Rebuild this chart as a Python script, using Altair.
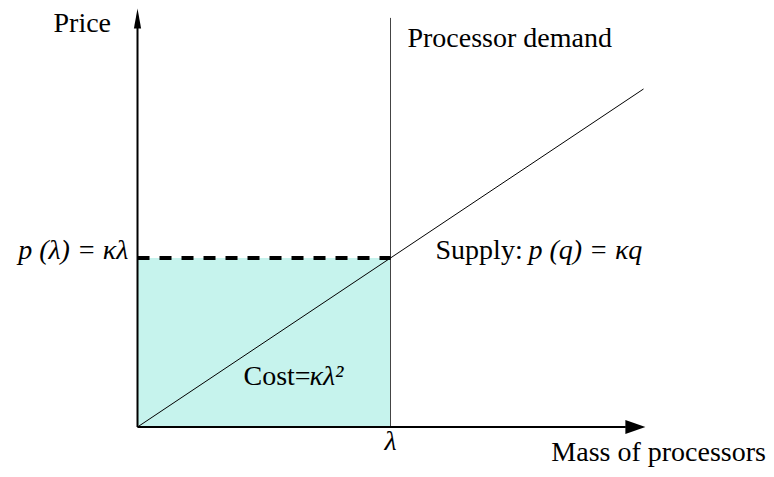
import altair as alt
import pandas as pd

# ---- model values (units where lambda = 1) ----
lam = 1.0                 # demand position
kappa = 0.668             # slope of supply, p(lambda) = kappa * lambda
supply_q = [0.0, 2.0]
supply_p = [0.0, 1.336]
x_axis_end = 1.93
y_axis_end = 1.58
demand_top = 1.617

FONT = "Liberation Serif"
FS = 28

xs = alt.Scale(domain=[-0.5119, 2.4842], nice=False, zero=False)
ys = alt.Scale(domain=[-0.166, 1.6561], nice=False, zero=False)


def X(f="x"):
    return alt.X(f"{f}:Q", scale=xs, axis=None)


def Y(f="y"):
    return alt.Y(f"{f}:Q", scale=ys, axis=None)


# shaded cost rectangle
rect = alt.Chart(pd.DataFrame({"x": [0.0], "x2": [lam], "y": [0.0], "y2": [kappa]})).mark_rect(
    color="#c6f3ed"
).encode(x=X(), x2="x2:Q", y=Y(), y2="y2:Q")

# demand line
demand = alt.Chart(pd.DataFrame({"x": [lam], "y": [0.0], "y2": [demand_top]})).mark_rule(
    color="#444444", strokeWidth=1
).encode(x=X(), y=Y(), y2="y2:Q")

# supply line
supply = alt.Chart(pd.DataFrame({"x": supply_q, "y": supply_p})).mark_line(
    color="black", strokeWidth=1
).encode(x=X(), y=Y())

# dashed price line
dashed = alt.Chart(pd.DataFrame({"x": [0.0], "x2": [lam], "y": [kappa]})).mark_rule(
    color="black", strokeWidth=4, strokeDash=[12, 10]
).encode(x=X(), x2="x2:Q", y=Y())

# axes
xaxis = alt.Chart(pd.DataFrame({"x": [0.0], "x2": [x_axis_end], "y": [0.0]})).mark_rule(
    color="black", strokeWidth=2
).encode(x=X(), x2="x2:Q", y=Y())
yaxis = alt.Chart(pd.DataFrame({"x": [0.0], "y": [0.0], "y2": [y_axis_end]})).mark_rule(
    color="black", strokeWidth=2
).encode(x=X(), y=Y(), y2="y2:Q")

# arrowheads
xhead = alt.Chart(pd.DataFrame({"x": [1.968], "y": [0.0]})).mark_point(
    shape="M 1 0 L -1 -0.7 L -1 0.7 Z", size=400, filled=True, color="black", opacity=1
).encode(x=X(), y=Y())
yhead = alt.Chart(pd.DataFrame({"x": [0.0], "y": [1.615]})).mark_point(
    shape="M 0 -1 L -0.36 1 L 0.36 1 Z", size=400, filled=True, color="black", opacity=1
).encode(x=X(), y=Y())

# labels
labels_left = pd.DataFrame({
    "x": [-0.332, 1.067, 1.178, 0.419],
    "y": [1.561, 1.502, 0.664, 0.166],
    "t": ["Price", "Processor demand", "Supply:", "Cost="],
})
txt_left = alt.Chart(labels_left).mark_text(
    align="left", baseline="alphabetic", font=FONT, fontSize=FS, color="black"
).encode(x=X(), y=Y(), text="t:N")

math_left = pd.DataFrame({
    "x": [1.545, 0.68],
    "y": [0.664, 0.166],
    "t": ["p (q) = κq", "κλ²"],
})
txt_math = alt.Chart(math_left).mark_text(
    align="left", baseline="alphabetic", font=FONT, fontSize=FS, fontStyle="italic", color="black"
).encode(x=X(), y=Y(), text="t:N")

plam = alt.Chart(pd.DataFrame({"x": [-0.036], "y": [0.664], "t": ["p (λ) = κλ"]})).mark_text(
    align="right", baseline="alphabetic", font=FONT, fontSize=FS, fontStyle="italic", color="black"
).encode(x=X(), y=Y(), text="t:N")

lamlab = alt.Chart(pd.DataFrame({"x": [lam], "y": [-0.091], "t": ["λ"]})).mark_text(
    align="center", baseline="alphabetic", font=FONT, fontSize=FS, fontStyle="italic", color="black"
).encode(x=X(), y=Y(), text="t:N")

mass = alt.Chart(pd.DataFrame({"x": [2.484], "y": [-0.134], "t": ["Mass of processors"]})).mark_text(
    align="right", baseline="alphabetic", font=FONT, fontSize=FS, color="black"
).encode(x=X(), y=Y(), text="t:N")

chart = alt.layer(
    rect, demand, supply, dashed, xaxis, yaxis, xhead, yhead,
    txt_left, txt_math, plam, lamlab, mass
).properties(
    width=758, height=461, padding=0, autosize=alt.AutoSizeParams(type="none")
).configure_view(stroke=None)

chart.save("out.html", embed_options={"renderer": "svg", "actions": False})
